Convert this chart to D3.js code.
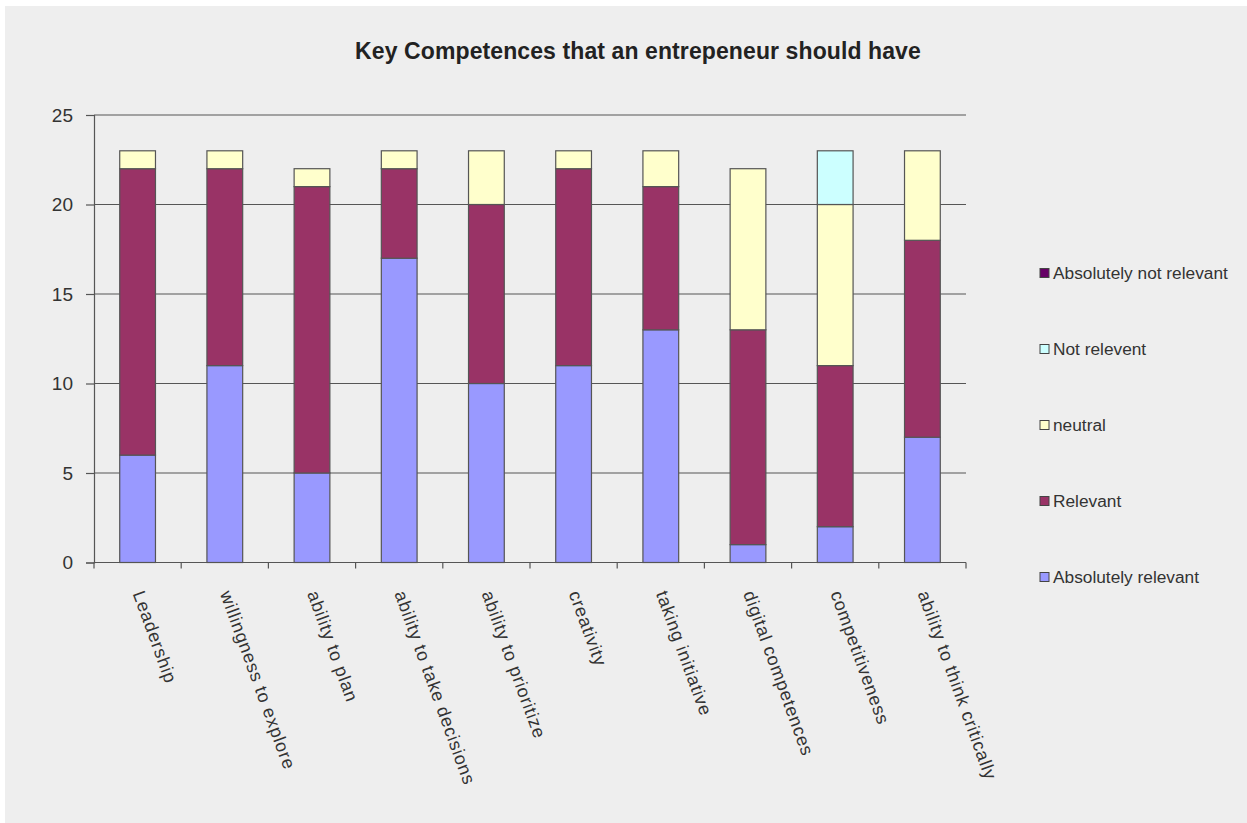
<!DOCTYPE html>
<html>
<head>
<meta charset="utf-8">
<script src="https://cdn.jsdelivr.net/npm/d3@7"></script>
<style>
  html, body { margin: 0; padding: 0; background: #ffffff; }
  svg { display: block; }
</style>
</head>
<body>
<svg id="chart" width="1247" height="823"></svg>
<script>
// Competences surveyed
const categories = [
  "Leadership", "willingness  to explore", "ability to plan", "ability to take decisions",
  "ability to prioritize", "creativity", "taking initiative", "digital competences",
  "competitiveness", "ability to think critically"
];

// Answer counts per competence, one array per answer option (stacked bottom to top)
const absolutelyRelevant    = [6, 11, 5, 17, 10, 11, 13, 1, 2, 7];
const relevant              = [16, 11, 16, 5, 10, 11, 8, 12, 9, 11];
const neutral               = [1, 1, 1, 1, 3, 1, 2, 9, 9, 5];
const notRelevent           = [0, 0, 0, 0, 0, 0, 0, 0, 3, 0];
const absolutelyNotRelevant = [0, 0, 0, 0, 0, 0, 0, 0, 0, 0];

const seriesNames  = ["Absolutely relevant", "Relevant", "neutral", "Not relevent", "Absolutely not relevant"];
const seriesColors = ["#9999ff", "#993366", "#ffffcc", "#ccffff", "#660066"];
const yTicks = [0, 5, 10, 15, 20, 25];

const seriesValues = [absolutelyRelevant, relevant, neutral, notRelevent, absolutelyNotRelevant];
const rows = categories.map((c, i) => {
  const r = { category: c };
  seriesNames.forEach((s, k) => { r[s] = seriesValues[k][i]; });
  return r;
});

const svg = d3.select("#chart");
const W = 1247, H = 823;
const FONT = "Liberation Sans, Arial, sans-serif";

// panel background
svg.append("rect").attr("x", 5).attr("y", 6).attr("width", W - 5).attr("height", H - 6)
  .attr("fill", "#eeeeee");

const margin = { left: 94, right: 966, top: 115, bottom: 562.5 };

const x = d3.scaleBand().domain(categories).range([margin.left, margin.right])
  .paddingInner(0.59).paddingOuter(0.295);
const y = d3.scaleLinear().domain([0, 25]).range([margin.bottom, margin.top]);

// horizontal gridlines
svg.append("g").selectAll("line").data(yTicks.filter(t => t > 0)).join("line")
  .attr("x1", margin.left).attr("x2", margin.right)
  .attr("y1", d => y(d)).attr("y2", d => y(d))
  .attr("stroke", "#555").attr("stroke-width", 1.2);

// stacked bars
const stack = d3.stack().keys(seriesNames);
const layers = stack(rows);
svg.append("g").selectAll("g").data(layers).join("g")
  .attr("fill", (d, i) => seriesColors[i])
  .selectAll("rect").data(d => d.filter(p => p[1] - p[0] > 0)).join("rect")
  .attr("x", d => x(d.data.category))
  .attr("width", x.bandwidth())
  .attr("y", d => y(d[1]))
  .attr("height", d => y(d[0]) - y(d[1]))
  .attr("stroke", "#555").attr("stroke-width", 1.2);

// y axis
const yAxis = d3.axisLeft(y).tickValues(yTicks).tickSize(8).tickPadding(13);
const gy = svg.append("g").attr("transform", `translate(${margin.left},0)`).call(yAxis);
gy.select(".domain").attr("stroke", "#555").attr("stroke-width", 1.2);
gy.selectAll(".tick line").attr("stroke", "#555").attr("stroke-width", 1.2);
gy.selectAll(".tick text").attr("font-family", FONT)
  .attr("font-size", 19).attr("fill", "#333");

// x axis: ticks at band boundaries
const boundaries = d3.range(categories.length + 1).map(i => margin.left + i * x.step());
const gx = svg.append("g");
gx.append("line").attr("x1", margin.left).attr("x2", margin.right)
  .attr("y1", margin.bottom).attr("y2", margin.bottom)
  .attr("stroke", "#555").attr("stroke-width", 1.2);
gx.selectAll("line.tk").data(boundaries).join("line").attr("class", "tk")
  .attr("x1", d => d).attr("x2", d => d)
  .attr("y1", margin.bottom).attr("y2", margin.bottom + 6)
  .attr("stroke", "#555").attr("stroke-width", 1.2);

// rotated category labels
gx.selectAll("text").data(categories).join("text")
  .attr("transform", d => `translate(${x(d) + x.bandwidth() / 2 - 5},${margin.bottom + 31}) rotate(70)`)
  .attr("text-anchor", "start")
  .attr("font-family", FONT)
  .attr("font-size", 18).attr("letter-spacing", 0.8).attr("fill", "#333")
  .text(d => d);

// title
svg.append("text").attr("x", 638).attr("y", 59).attr("text-anchor", "middle")
  .attr("font-family", FONT).attr("font-weight", "bold")
  .attr("font-size", 23).attr("letter-spacing", 0.1).attr("fill", "#222")
  .text("Key Competences that an entrepeneur should have");

// legend, top entry is the last series
const legendOrder = seriesNames.map((s, i) => i).reverse();
const lg = svg.append("g").selectAll("g").data(legendOrder).join("g")
  .attr("transform", (d, j) => `translate(1040,${273 + j * 76})`);
lg.append("rect").attr("x", 0).attr("y", -4.5).attr("width", 9).attr("height", 9)
  .attr("fill", d => seriesColors[d]).attr("stroke", "#444").attr("stroke-width", 1);
lg.append("text").attr("x", 13).attr("y", 6)
  .attr("font-family", FONT).attr("font-size", 17.3)
  .attr("fill", "#333")
  .text(d => seriesNames[d]);
</script>
</body>
</html>
